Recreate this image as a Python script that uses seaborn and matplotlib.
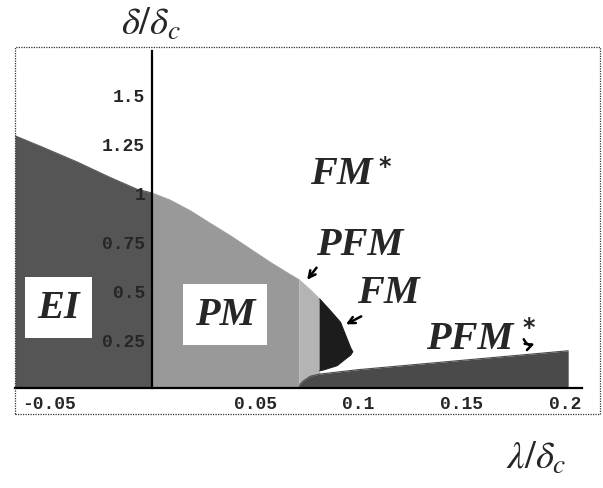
import matplotlib
matplotlib.use('Agg')
import matplotlib.pyplot as plt
from matplotlib.patches import Rectangle
import seaborn as sns
import pandas as pd

# boundaries of the phase regions
ei_x = [-0.0663, -0.0528, -0.0366, -0.0204, -0.0074, 0.0]
ei_y = [1.287, 1.228, 1.155, 1.075, 1.015, 0.995]
pm_x = [0.0, 0.0087, 0.0184, 0.0282, 0.0379, 0.0476, 0.0573, 0.0670, 0.0712]
pm_y = [0.995, 0.959, 0.905, 0.840, 0.777, 0.709, 0.641, 0.578, 0.552]
pfm_x = [0.0712, 0.0762, 0.0812]
pfm_y = [0.552, 0.505, 0.454]
fm_top_x = [0.0812, 0.0864, 0.0913, 0.0945, 0.0962, 0.0972]
fm_top_y = [0.454, 0.394, 0.335, 0.25, 0.205, 0.185]
fm_bot_x = [0.0812, 0.0830, 0.0897, 0.0937, 0.0962, 0.0972]
fm_bot_y = [0.088, 0.092, 0.114, 0.148, 0.168, 0.185]
band_x = [0.0712, 0.0718, 0.0734, 0.0767, 0.0812, 0.0994, 0.2015]
band_y = [0.0, 0.02, 0.037, 0.06, 0.071, 0.093, 0.19]

xticks = [-0.05, 0.05, 0.1, 0.15, 0.2]
xtick_labels = ['-0.05', '0.05', '0.1', '0.15', '0.2']
yticks = [0.25, 0.5, 0.75, 1.0, 1.25, 1.5]
ytick_labels = ['0.25', '0.5', '0.75', '1', '1.25', '1.5']

c_ei = '#555555'
c_pm = '#999999'
c_pfm = '#b4b4b4'
c_fm = '#1c1c1c'
c_band = '#4a4a4a'

sns.set_style('white')
plt.rcParams['font.family'] = ['Liberation Serif', 'DejaVu Serif']
plt.rcParams['mathtext.fontset'] = 'stix'

fig = plt.figure(figsize=(6.03, 4.89), dpi=100)
ax = fig.add_axes([15 / 603, 1 - 415 / 489, 585 / 603, 367 / 489])

# fills
ax.fill_between(ei_x, 0, ei_y, color=c_ei, lw=0, zorder=1)
ax.fill_between(pm_x, 0, pm_y, color=c_pm, lw=0, zorder=1)
ax.fill_between(pfm_x, 0, pfm_y, color=c_pfm, lw=0, zorder=1)
ax.fill(fm_top_x + fm_bot_x[::-1], fm_top_y + fm_bot_y[::-1], color=c_fm, lw=0, zorder=1.2)
ax.fill_between(band_x, 0, band_y, color=c_band, lw=0, zorder=1.3)

# soft edges along the boundaries
curves = [(ei_x, ei_y, c_ei), (pm_x, pm_y, c_pm), (pfm_x, pfm_y, c_pfm),
          (fm_top_x, fm_top_y, c_fm), (fm_bot_x, fm_bot_y, c_fm), (band_x, band_y, c_band)]
for cx, cy, cc in curves:
    df = pd.DataFrame({'x': cx, 'y': cy})
    sns.lineplot(data=df, x='x', y='y', color=cc, lw=0.8, sort=False, ax=ax, zorder=1.4)

ax.set_xlim(-0.0663, 0.2169)
ax.set_ylim(-0.1327, 1.740)
ax.set_xlabel('')
ax.set_ylabel('')
ax.set_axisbelow(False)

# Mathematica style axes through the origin
for s in ['top', 'right']:
    ax.spines[s].set_visible(False)
ax.spines['left'].set_position(('data', 0))
ax.spines['bottom'].set_position(('data', 0))
ax.spines['left'].set_bounds(0, 1.72)
ax.spines['bottom'].set_bounds(-0.0663, 0.208)
for s in ['left', 'bottom']:
    ax.spines[s].set_linewidth(1.6)
    ax.spines[s].set_color('black')
    ax.spines[s].set_zorder(3)

ax.set_xticks(xticks)
ax.set_xticklabels(xtick_labels)
ax.set_yticks(yticks)
ax.set_yticklabels(ytick_labels)
ax.set_xticks([i / 100 for i in range(-6, 21) if i % 5 != 0], minor=True)
ax.set_yticks([i / 20 for i in range(1, 35) if i % 5 != 0], minor=True)
ax.tick_params(which='major', direction='in', length=5, width=1, color='black', pad=5)
ax.tick_params(which='minor', direction='in', length=3, width=0.8, color='#333333')
for lab in ax.get_xticklabels() + ax.get_yticklabels():
    lab.set_family('Liberation Mono')
    lab.set_fontsize(13)
    lab.set_fontweight('bold')

# dotted plot-range frame
ax.add_patch(Rectangle((0, 0), 1, 1, transform=ax.transAxes, fill=False,
                       ls=(0, (1, 1)), lw=0.9, ec='#333333', clip_on=False, zorder=4))

lab_kw = dict(fontsize=29, fontweight='bold', fontstyle='italic', ha='center', va='center', zorder=5)
box = dict(boxstyle='square,pad=0.3', fc='white', ec='none')
ax.text(-0.0453, 0.41, 'EI', bbox=box, **lab_kw)
ax.text(0.0354, 0.375, 'PM', bbox=box, **lab_kw)
ax.text(0.0917, 1.097, 'FM', **lab_kw)
ax.text(0.1005, 0.73, 'PFM', **lab_kw)
ax.text(0.1146, 0.485, 'FM', **lab_kw)
ax.text(0.1539, 0.255, 'PFM', **lab_kw)
ast_kw = dict(fontsize=17, fontweight='bold', ha='center', va='center', family='DejaVu Sans', zorder=5)
ax.text(0.1125, 1.135, '*', **ast_kw)
ax.text(0.1825, 0.31, '*', **ast_kw)

arr = dict(arrowstyle='->', lw=1.8, color='black', mutation_scale=12)
ax.annotate('', xy=(0.0743, 0.541), xytext=(0.0805, 0.625), arrowprops=arr)
ax.annotate('', xy=(0.0927, 0.318), xytext=(0.1025, 0.372), arrowprops=arr)
ax.annotate('', xy=(0.1865, 0.232), xytext=(0.1795, 0.262),
            arrowprops=dict(arr, connectionstyle='arc3,rad=0.6'))

fig.text(151 / 603, 1 - 25 / 489, r'$\delta/\delta_c$', fontsize=28, ha='center', va='center')
fig.text(536 / 603, 1 - 459 / 489, r'$\lambda/\delta_c$', fontsize=28, ha='center', va='center')

fig.savefig('out.png', dpi=100)
